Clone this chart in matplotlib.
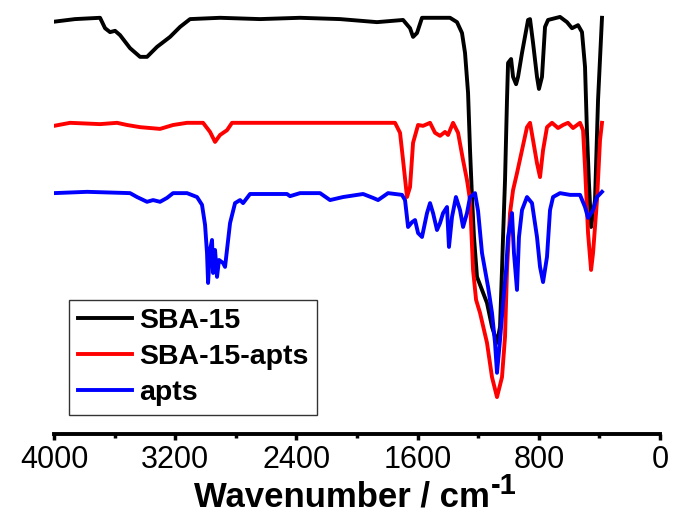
import matplotlib
matplotlib.use("Agg")
import matplotlib.pyplot as plt

plt.rcParams['font.family'] = ['Liberation Sans', 'DejaVu Sans']

# SBA-15
sba_wn = [4000, 3861, 3696, 3663, 3630, 3597, 3564, 3498, 3432, 3386, 3320, 3234, 3168, 3102,
          2904, 2640, 2376, 2112, 1868, 1696, 1650, 1630, 1604, 1571, 1386, 1340, 1307, 1287,
          1267, 1254, 1241, 1228, 1208, 1175, 1142, 1109, 1076, 1056, 1043, 1036, 1023, 1010,
          1003, 983, 970, 950, 937, 911, 871, 858, 838, 812, 799, 779, 759, 739, 660, 614,
          581, 541, 515, 495, 482, 469, 455, 429, 409, 383]
sba_t = [95.0, 95.6, 95.9, 93.5, 92.6, 92.9, 91.9, 88.9, 86.9, 86.9, 89.2, 91.5, 93.8, 95.6,
         95.9, 95.6, 95.9, 95.6, 94.9, 95.4, 93.5, 91.5, 92.4, 95.9, 95.9, 94.9, 92.4, 87.8,
         78.6, 65.4, 54.6, 45.4, 36.2, 33.2, 30.2, 24.7, 21.0, 24.7, 37.8, 45.4, 58.5, 77.0,
         85.5, 86.4, 82.3, 80.6, 82.3, 87.8, 95.4, 95.6, 90.1, 82.3, 79.5, 82.3, 93.8, 95.4,
         96.1, 94.9, 93.5, 94.2, 92.6, 84.6, 69.4, 57.8, 47.7, 53.9, 77.0, 95.9]

# SBA-15-apts
sbaa_wn = [4000, 3894, 3696, 3584, 3518, 3432, 3300, 3214, 3122, 3016, 2970, 2937, 2904, 2858,
           2825, 2178, 1749, 1716, 1696, 1670, 1650, 1630, 1597, 1564, 1518, 1485, 1452, 1419,
           1399, 1366, 1333, 1300, 1274, 1254, 1234, 1214, 1188, 1142, 1109, 1076, 1043, 1023,
           1010, 990, 970, 944, 911, 878, 858, 838, 812, 792, 772, 746, 713, 673, 640, 607,
           574, 528, 508, 495, 475, 455, 442, 416, 396, 383]
sbaa_t = [71.0, 71.7, 71.4, 71.7, 71.2, 70.7, 70.3, 71.2, 71.7, 71.7, 69.6, 67.3, 68.9, 70.0,
          71.7, 71.7, 71.7, 69.4, 63.1, 54.6, 56.9, 67.1, 71.2, 71.0, 71.7, 69.4, 68.7, 69.6,
          68.9, 71.7, 69.4, 63.1, 58.5, 53.9, 37.8, 30.9, 27.9, 21.0, 13.1, 8.5, 13.1, 22.4,
          37.8, 50.9, 56.2, 60.1, 65.4, 70.7, 71.7, 67.7, 62.4, 59.2, 65.4, 70.7, 71.7, 70.5,
          71.2, 71.7, 70.5, 71.7, 70.0, 61.5, 46.3, 37.8, 41.7, 53.9, 67.7, 71.7]

# apts
apts_wn = [4000, 3782, 3498, 3452, 3386, 3346, 3300, 3254, 3214, 3122, 3056, 3023, 3003, 2990,
           2983, 2970, 2957, 2950, 2937, 2924, 2911, 2884, 2871, 2838, 2805, 2772, 2752, 2706,
           2462, 2442, 2376, 2244, 2178, 2092, 1960, 1894, 1861, 1795, 1703, 1683, 1663, 1637,
           1617, 1597, 1571, 1538, 1518, 1498, 1472, 1452, 1432, 1406, 1393, 1373, 1347, 1320,
           1300, 1274, 1254, 1221, 1201, 1175, 1155, 1135, 1109, 1089, 1076, 1056, 1036, 1016,
           1003, 977, 964, 944, 931, 911, 878, 845, 812, 792, 772, 746, 726, 706, 660, 594,
           528, 495, 475, 442, 416, 383]
apts_t = [55.5, 55.8, 55.5, 54.6, 53.5, 53.9, 53.5, 54.4, 55.5, 55.5, 54.6, 52.8, 48.2, 41.7,
          34.8, 42.4, 44.7, 37.1, 42.4, 36.2, 40.1, 39.4, 38.5, 48.6, 53.2, 53.9, 53.2, 55.3,
          55.3, 54.8, 55.5, 55.5, 53.9, 54.6, 55.3, 54.4, 53.9, 55.5, 55.1, 53.9, 47.7, 48.8,
          49.3, 46.3, 45.4, 50.9, 53.2, 50.9, 47.0, 48.6, 50.9, 52.3, 43.1, 50.0, 54.6, 51.6,
          47.7, 50.9, 54.6, 55.5, 51.4, 41.7, 37.8, 33.9, 27.9, 21.0, 14.1, 21.7, 30.2, 37.8,
          45.4, 50.9, 41.7, 33.2, 45.4, 51.6, 54.6, 53.2, 45.4, 38.5, 35.0, 40.8, 51.6, 54.6,
          55.5, 55.1, 55.1, 52.3, 49.8, 51.6, 54.6, 55.8]

fig = plt.figure(figsize=(6.75, 5.21), dpi=100)
ax = fig.add_axes([0.08, 0.167, 0.8978, 0.833])

ax.plot(sba_wn, sba_t, color='black', lw=2.8, label='SBA-15')
ax.plot(sbaa_wn, sbaa_t, color='red', lw=2.8, label='SBA-15-apts')
ax.plot(apts_wn, apts_t, color='blue', lw=2.8, label='apts')

ax.set_xlim(4000, 0)
ax.set_ylim(0, 100)
ax.set_xticks([4000, 3200, 2400, 1600, 800, 0])
ax.set_xticks([3600, 2800, 2000, 1200, 400], minor=True)
ax.set_yticks([])
for s in ['top', 'left', 'right']:
    ax.spines[s].set_visible(False)
ax.spines['bottom'].set_linewidth(2.8)
ax.tick_params(axis='x', which='major', direction='out', length=4, width=2.5,
               labelsize=22, pad=4)
ax.tick_params(axis='x', which='minor', direction='out', length=3, width=2.5)

ax.set_xlabel('Wavenumber / cm', fontsize=25, fontweight='bold', labelpad=4)
ax.xaxis.label.set_x(0.475)
ax.annotate('-1', xy=(1.0, 0.4), xycoords=ax.xaxis.label, xytext=(1, 0),
            textcoords='offset points', ha='left', va='bottom',
            fontsize=21, fontweight='bold')

leg = ax.legend(loc='lower left', bbox_to_anchor=(0.025, 0.044),
                prop={'weight': 'bold', 'size': 20.5}, frameon=True, fancybox=False,
                handlelength=1.9, handletextpad=0.25, labelspacing=0.35,
                borderpad=0.3, borderaxespad=0)
leg.get_frame().set_edgecolor('black')
leg.get_frame().set_linewidth(1.0)

fig.savefig('out.png', dpi=100)
